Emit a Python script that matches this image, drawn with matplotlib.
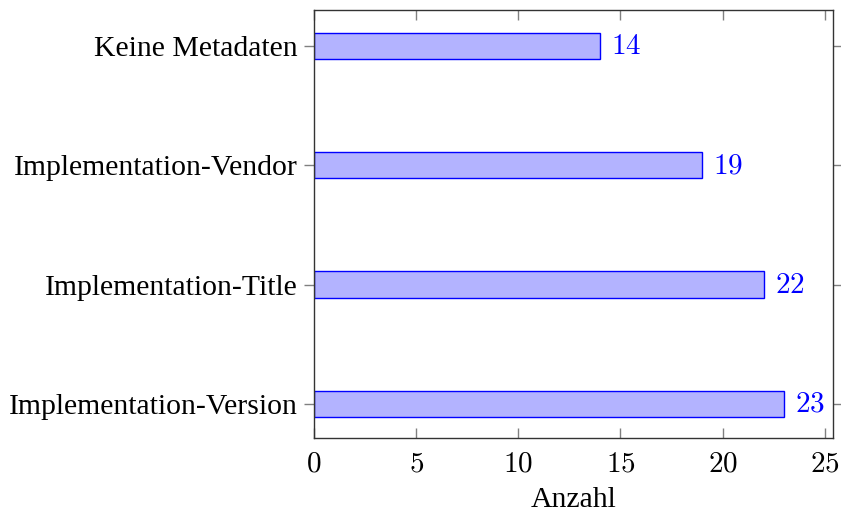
import matplotlib
matplotlib.use("Agg")
import matplotlib.pyplot as plt

categories = ["Implementation-Version", "Implementation-Title", "Implementation-Vendor", "Keine Metadaten"]
values = [23, 22, 19, 14]
xticks = [0, 5, 10, 15, 20, 25]

plt.rcParams['mathtext.fontset'] = 'cm'
serif = ['Liberation Serif', 'DejaVu Serif']
FS = 21

fig = plt.figure(figsize=(8.41, 5.13), dpi=100)
ax = fig.add_axes([314/841, 75/513, (833-314)/841, (438-10)/513])

pos = list(range(len(categories)))
ax.barh(pos, values, height=0.22, color=(0.7, 0.7, 1.0), edgecolor=(0, 0, 1), linewidth=1.0)
for p, v in zip(pos, values):
    ax.annotate(f"${v}$", (v, p), xytext=(8, 0), textcoords='offset points',
                va='center', ha='left', color=(0, 0, 1), fontsize=FS)

ax.set_xlim(0, 25.4)
ax.set_ylim(-0.285, 3.3)
ax.set_yticks(pos)
ax.set_yticklabels(categories, fontfamily=serif, fontsize=21.4)
ax.set_xticks(xticks)
ax.set_xticklabels([f"${t}$" for t in xticks], fontsize=FS)
ax.tick_params(axis='x', direction='in', top=True, bottom=True, length=7.5, color='#808080', width=1, pad=8)
ax.tick_params(axis='y', direction='out', left=True, right=True, length=7.5, color='#808080', width=1, pad=4)
ax.set_xlabel("Anzahl", fontfamily=serif, fontsize=21.4, labelpad=7)
for s in ax.spines.values():
    s.set_color('#333333')
    s.set_linewidth(1.0)

fig.savefig("out.png", dpi=100)
